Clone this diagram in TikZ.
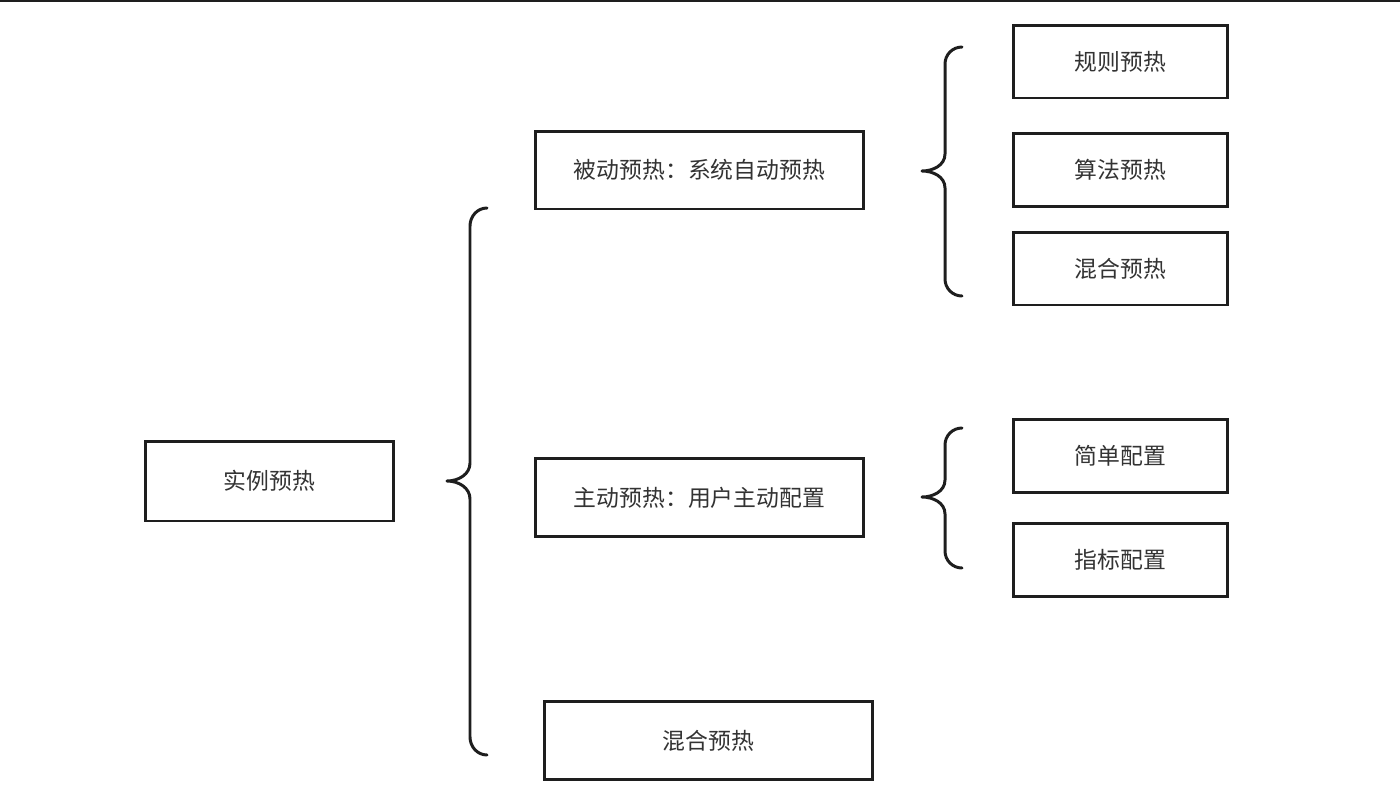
\documentclass[tikz,border=0pt]{standalone}
\usepackage{fontspec}
\usepackage{tikz}
\usetikzlibrary{positioning}
\newfontfamily\cjk{Noto Sans CJK SC}
\definecolor{boxline}{HTML}{1E1E1E}
\definecolor{boxtext}{HTML}{333333}

\begin{document}
\begin{tikzpicture}[x=0.02cm,y=-0.02cm,
			box/.style={draw=boxline,line width=1.7pt,fill=white,font=\cjk\fontsize{13}{15}\selectfont,text=boxtext,minimum height=1.56cm,inner sep=0pt},
			wide/.style={box,minimum width=6.58cm},
			leaf/.style={box,minimum width=4.3cm,minimum height=1.46cm},
			curl/.style={draw=boxline,line width=1.7pt,line cap=round,line join=round}
			]
			\useasboundingbox (0,0) rectangle (1400,808);
			\draw[boxline,line width=1.7pt] (0,1) -- (1400,1);
			% root and middle column
			\node[box,minimum width=4.98cm,minimum height=1.6cm] (root) at (269.5,481) {实例预热};
			\node[wide] (passive) at (699.5,170) {被动预热：系统自动预热};
			\node[wide] (active) at (699.5,497.5) {主动预热：用户主动配置};
			\node[wide] (mixed) at (708.5,740.5) {混合预热};
			% right column
			\node[leaf] (rule) at (1120.5,61.5) {规则预热};
			\node[leaf] (algo) at (1120.5,170) {算法预热};
			\node[leaf] (mix) at (1120.5,268.5) {混合预热};
			\node[leaf] (simple) at (1120.5,456) {简单配置};
			\node[leaf] (metric) at (1120.5,560) {指标配置};
			% braces
			\draw[curl] (487,208) to[out=180,in=90] (470,226) -- (470,463) to[out=-90,in=0] (447,481)
				to[out=0,in=90] (470,499) -- (470,737) to[out=-90,in=180] (487,755);
			\draw[curl] (962,47) to[out=180,in=90] (945,64) -- (945,154) to[out=-90,in=0] (922,171)
				to[out=0,in=90] (945,188) -- (945,279) to[out=-90,in=180] (962,296);
			\draw[curl] (962,428) to[out=180,in=90] (945,445) -- (945,480) to[out=-90,in=0] (922,497)
				to[out=0,in=90] (945,514) -- (945,551) to[out=-90,in=180] (962,568);
		\end{tikzpicture}
\end{document}
